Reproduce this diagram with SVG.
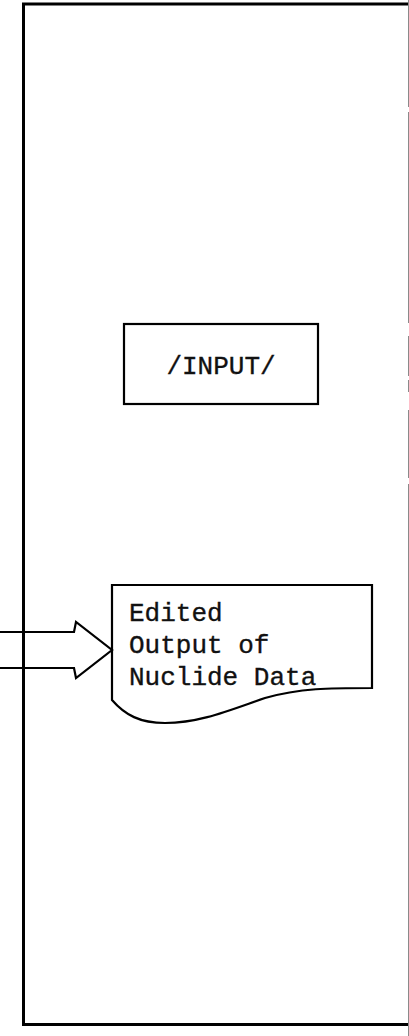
<svg xmlns="http://www.w3.org/2000/svg" width="409" height="1036" viewBox="0 0 409 1036">
  <style>
    .frame { fill: none; stroke: #000; stroke-width: 3; }
    .edge { fill: none; stroke: #000; stroke-width: 2.2; stroke-linejoin: miter; }
    .margin { stroke: #8a8a8a; stroke-width: 1; }
    .label { font-family: "Courier New", "Liberation Mono", monospace; font-size: 26px; fill: #111; stroke: #111; stroke-width: 0.35; }
  </style>
  <rect width="409" height="1036" fill="#fff"/>

  <!-- page frame -->
  <g id="frame">
    <path class="frame" d="M409 4 H23.5 V1024.5 H409"/>
    <!-- faint right margin rule -->
    <path class="margin" d="M408.5 0 V107 M408.5 112 V323 M408.5 336 V376 M408.5 380 V392 M408.5 410 V478 M408.5 484 V1036"/>
  </g>

  <!-- process box -->
  <g id="input">
    <rect class="edge" x="124" y="324" width="194" height="80"/>
    <text class="label" x="221" y="374" text-anchor="middle">/INPUT/</text>
  </g>

  <!-- printed output document -->
  <g id="output">
    <path class="edge" d="M112 700 V585 H372 V688 C330 688 300 688 265 698 C230 710 200 723 165 723 C140 723 125 715 112 700 Z"/>
    <text class="label" x="129" y="621">Edited</text>
    <text class="label" x="129" y="653">Output of</text>
    <text class="label" x="129" y="685">Nuclide Data</text>
  </g>

  <!-- connectors -->
  <g id="connectors">
    <path class="edge" d="M0 632 H74 L76 622 L112 650 L76 678 L74 668 H0"/>
  </g>
</svg>
